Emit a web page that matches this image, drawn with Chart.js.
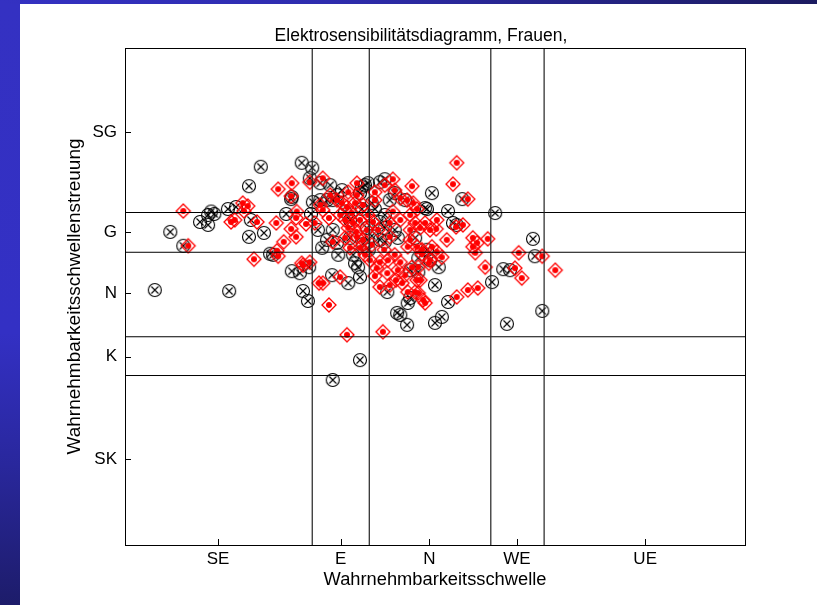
<!DOCTYPE html>
<html>
<head>
<meta charset="utf-8">
<script src="https://cdn.jsdelivr.net/npm/chart.js@4.4.1/dist/chart.umd.min.js"></script>
<style>
  html, body { margin:0; padding:0; background:#fff; }
  body { width:817px; height:605px; position:relative; overflow:hidden; }
  #leftbar { position:absolute; left:0; top:0; width:20px; height:605px;
    background:linear-gradient(to bottom, #3431c2 0%, #3330c4 55%, #2a28a0 75%, #1d1c6a 100%); }
  #topbar { position:absolute; left:0; top:0; width:817px; height:4px;
    background:linear-gradient(to right, #3431c2 0%, #2e2cae 40%, #1c1b60 100%); }
  #wrap { position:absolute; left:20px; top:4px; width:797px; height:601px; }
</style>
</head>
<body>
<div id="leftbar"></div>
<div id="topbar"></div>
<div id="wrap"><canvas id="c" width="797" height="601"></canvas></div>
<script>
const chartTitle = 'Elektrosensibilitätsdiagramm, Frauen,';
const xTitle = 'Wahrnehmbarkeitsschwelle';
const yTitle = 'Wahrnehmbarkeitsschwellenstreuung';
const xTickVals = [15.0, 34.8, 49.1, 63.2, 83.9];
const xTickLabels = ['SE', 'E', 'N', 'WE', 'UE'];
const yTickVals = [17.3, 37.9, 50.7, 62.9, 83.0];
const yTickLabels = ['SK', 'K', 'N', 'G', 'SG'];
const xBounds = [30.2, 39.4, 59.0, 67.6];
const yBounds = [34.1, 41.9, 58.9, 66.9];

const blackX = [4.8,7.3,9.4,12.1,13.4,14.4,13.4,13.9,16.6,17.9,20.3,20.0,22.4,26.0,26.8,20.0,21.9,26.9,28.5,30.2,29.8,30.3,30.0,23.4,23.9,26.9,28.2,29.7,28.7,29.5,16.8,33.1,31.5,35.0,34.2,38.7,39.2,38.2,41.1,41.9,48.7,52.1,54.4,59.7,49.5,48.4,52.9,31.5,32.6,33.5,37.9,41.9,33.5,41.1,41.9,43.5,53.5,32.6,34.2,31.8,41.1,41.9,44.0,46.8,48.7,34.4,36.8,37.1,37.6,37.9,33.4,36.0,46.0,59.2,42.3,50.0,52.1,46.0,45.6,43.9,45.5,50.0,51.1,50.6,61.0,62.1,65.8,66.1,47.3,61.6,67.3,44.4,37.9,33.5,39.8,40.3,39.0,39.8,42.7,43.5,45.2,35.5,36.3,38.4,39.3,36.3,31.1,38.2,49.2,47.3];
const blackY = [51.3,63.0,60.2,65.0,66.4,66.6,64.4,67.1,67.6,68.0,65.4,62.0,62.8,66.6,69.6,72.2,76.1,70.0,76.9,75.9,73.8,69.0,66.6,58.6,58.4,55.1,54.7,55.9,51.1,49.1,51.1,72.4,72.8,71.4,70.4,72.4,72.8,72.0,73.0,73.6,67.6,67.2,69.6,66.8,70.8,67.8,64.8,69.4,69.4,69.4,70.8,66.4,63.4,65.0,63.8,63.4,64.4,61.4,60.8,59.8,61.4,61.0,61.8,61.8,59.4,58.4,58.4,56.7,55.9,53.9,54.3,52.7,55.3,52.9,50.9,52.3,48.9,49.7,48.7,46.7,44.3,44.7,45.9,55.9,55.5,55.3,61.6,58.1,54.9,44.5,47.1,46.3,37.2,33.2,68.8,67.6,63.8,62.2,69.4,70.8,69.4,67.1,65.4,60.6,59.4,61.8,63.4,67.6,57.3,57.7];

const redX = [9.4,10.2,19.0,19.2,19.8,17.1,17.7,21.3,24.4,27.7,27.6,26.8,26.9,24.7,29.8,29.2,30.6,26.8,27.6,25.6,24.5,24.7,20.8,28.5,28.7,31.3,31.9,53.5,52.9,43.2,46.3,40.3,36.0,44.4,55.3,34.2,35.0,35.8,37.1,40.3,38.4,43.2,45.5,46.5,47.1,46.0,50.3,36.0,36.8,37.9,39.0,42.7,44.4,46.0,46.8,47.6,48.4,49.2,51.9,56.1,56.8,58.5,33.5,37.4,38.4,39.8,42.7,45.6,47.1,47.9,49.5,50.3,51.1,56.1,56.5,29.8,34.7,39.5,41.1,40.6,42.3,46.3,47.3,47.6,49.2,58.1,31.9,32.9,41.1,42.7,46.8,48.1,48.4,53.5,55.3,56.9,35.8,41.6,54.5,53.4,50.2,63.5,62.9,67.3,69.4,64.0,47.1,49.0,47.9,46.0,45.6,47.3,34.7,35.5,36.6,37.3,37.9,38.7,36.3,35.5,39.2,40.0,40.8,41.8,43.5,44.4,44.0,45.2,44.7,43.7,42.4,40.3,32.9,31.9,37.4,41.9,43.5,37.4,33.1,31.5];
const redY = [67.2,60.2,68.8,67.2,68.2,65.0,65.4,65.0,64.8,67.1,65.8,70.2,72.8,71.6,73.0,64.6,64.8,63.6,62.0,61.0,59.2,58.1,57.5,56.7,56.3,52.7,73.8,76.9,72.6,73.6,72.2,71.0,71.0,69.8,69.6,69.4,68.8,68.0,68.8,69.4,68.4,67.1,69.4,68.8,67.6,66.4,65.4,63.8,64.8,65.4,63.4,64.8,65.4,63.4,64.8,63.8,64.8,63.4,61.4,61.8,60.8,61.6,61.0,62.0,61.4,60.4,62.0,60.0,60.0,59.4,60.0,59.0,57.9,60.0,58.8,56.9,53.9,57.3,56.9,55.7,54.7,55.9,55.9,53.3,57.3,55.9,52.7,48.3,51.9,52.3,50.9,49.3,48.7,49.9,51.3,51.7,42.3,42.9,64.4,64.0,63.6,58.8,55.7,58.1,55.3,53.7,53.3,56.7,58.6,61.4,50.9,50.7,66.4,65.4,66.8,63.0,59.8,58.4,59.8,61.8,66.4,65.0,63.4,59.4,58.4,56.9,55.3,54.3,52.7,53.3,57.3,54.1,65.8,67.4,72.8,72.4,71.4,70.4,70.4,68.4];

const FONT = 'Liberation Sans, Arial, Helvetica, sans-serif';

// marker glyphs
function makeCircleX() {
  const c = document.createElement('canvas'); c.width = 18; c.height = 18;
  const g = c.getContext('2d');
  g.strokeStyle = '#000'; g.lineWidth = 1.1;
  g.beginPath(); g.arc(9, 9, 6.5, 0, Math.PI * 2); g.stroke();
  const d = 3.5;
  g.beginPath(); g.moveTo(9 - d, 9 - d); g.lineTo(9 + d, 9 + d);
  g.moveTo(9 + d, 9 - d); g.lineTo(9 - d, 9 + d); g.stroke();
  return c;
}
function makeDiamondDot() {
  const c = document.createElement('canvas'); c.width = 18; c.height = 18;
  const g = c.getContext('2d');
  g.strokeStyle = '#ff0000'; g.lineWidth = 1.3;
  const r = 7;
  g.beginPath(); g.moveTo(9, 9 - r); g.lineTo(9 + r, 9); g.lineTo(9, 9 + r); g.lineTo(9 - r, 9); g.closePath(); g.stroke();
  g.fillStyle = '#ff0000';
  g.beginPath(); g.arc(9, 9, 3, 0, Math.PI * 2); g.fill();
  return c;
}

const boundaryDatasets = [];
xBounds.forEach(b => boundaryDatasets.push({
  data: [{x: b, y: 0}, {x: b, y: 100}], showLine: true, pointRadius: 0,
  borderColor: '#222', borderWidth: 1.2, fill: false
}));
yBounds.forEach(b => boundaryDatasets.push({
  data: [{x: 0, y: b}, {x: 100, y: b}], showLine: true, pointRadius: 0,
  borderColor: '#000', borderWidth: 1, fill: false
}));

const redData = redX.map((x, i) => ({x, y: redY[i]}));
const blackData = blackX.map((x, i) => ({x, y: blackY[i]}));

const frame = {
  id: 'frame',
  afterDraw(chart) {
    const {ctx, chartArea: a, scales} = chart;
    ctx.save();
    ctx.strokeStyle = '#000'; ctx.lineWidth = 1;
    ctx.strokeRect(Math.round(a.left) + 0.5, Math.round(a.top) + 0.5,
      Math.round(a.right - a.left), Math.round(a.bottom - a.top));
    // inward tick marks
    ctx.beginPath();
    xTickVals.forEach(v => {
      const px = Math.round(scales.x.getPixelForValue(v)) + 0.5;
      ctx.moveTo(px, a.bottom); ctx.lineTo(px, a.bottom - 6);
    });
    yTickVals.forEach(v => {
      const py = Math.round(scales.y.getPixelForValue(v)) + 0.5;
      ctx.moveTo(a.left, py); ctx.lineTo(a.left + 6, py);
    });
    ctx.stroke();
    // title
    ctx.fillStyle = '#000';
    ctx.font = '17.5px ' + FONT;
    ctx.textAlign = 'center'; ctx.textBaseline = 'middle';
    ctx.fillText(chartTitle, (a.left + a.right) / 2 - 14, a.top - 12);
    ctx.restore();
  }
};

new Chart(document.getElementById('c'), {
  type: 'scatter',
  data: {
    datasets: [
      ...boundaryDatasets,
      { label: 'rot', data: redData, pointStyle: makeDiamondDot(), pointRadius: 7 },
      { label: 'schwarz', data: blackData, pointStyle: makeCircleX(), pointRadius: 7 }
    ]
  },
  options: {
    responsive: false,
    animation: false,
    events: [],
    layout: { padding: { top: 44, right: 72, bottom: 0, left: 0 } },
    plugins: { legend: { display: false }, tooltip: { enabled: false }, title: { display: false } },
    scales: {
      x: {
        type: 'linear', min: 0, max: 100,
        afterBuildTicks: s => { s.ticks = xTickVals.map(v => ({value: v})); },
        afterFit: s => { s.height = 60; },
        grid: { display: false, drawTicks: false },
        border: { display: false },
        ticks: { autoSkip: false, maxRotation: 0, padding: 4, color: '#000',
          font: { family: FONT, size: 17 },
          callback: (v, i) => xTickLabels[i] },
        title: { display: true, text: xTitle, color: '#000',
          font: { family: FONT, size: 18.3 }, padding: { top: 0, bottom: 14 } }
      },
      y: {
        type: 'linear', min: 0, max: 100,
        afterBuildTicks: s => { s.ticks = yTickVals.map(v => ({value: v})); },
        afterFit: s => { s.width = 105; },
        grid: { display: false, drawTicks: false },
        border: { display: false },
        ticks: { autoSkip: false, padding: 8, color: '#000',
          font: { family: FONT, size: 17 },
          callback: (v, i) => yTickLabels[i] },
        title: { display: true, text: yTitle, color: '#000',
          font: { family: FONT, size: 19 }, padding: { top: 43.6, bottom: 0 } }
      }
    }
  },
  plugins: [frame]
});
</script>
</body>
</html>
